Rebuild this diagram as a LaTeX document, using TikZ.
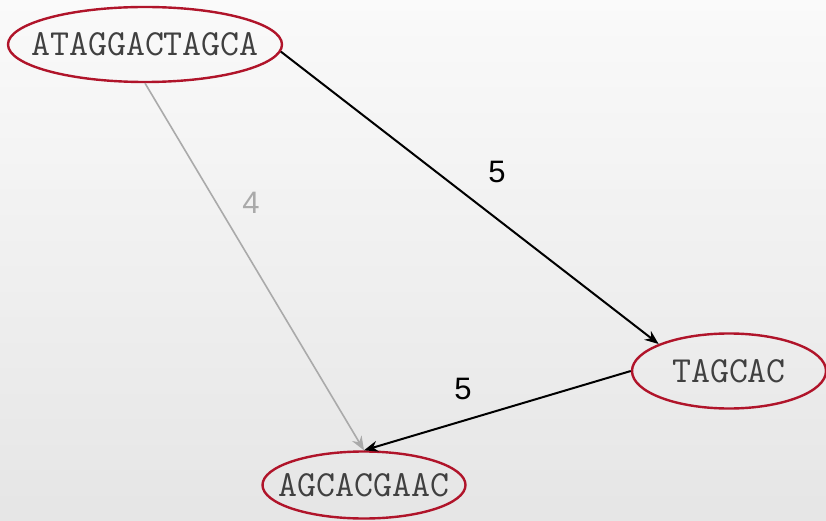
\documentclass[tikz,border=0pt]{standalone}
\usepackage{fontspec}
\setmainfont{Liberation Sans}
\usetikzlibrary{shapes.geometric,arrows.meta}
\definecolor{ered}{RGB}{176,20,42}
\definecolor{seqtext}{RGB}{64,64,64}
\definecolor{lightedge}{RGB}{170,170,170}
\begin{document}
\begin{tikzpicture}[x=1pt,y=-1pt,
  seq/.style={ellipse, draw=ered, line width=2.4pt, inner xsep=-60pt, inner ysep=-20pt, text=seqtext,
    font=\ttfamily\fontsize{36.8}{40}\selectfont},
  lab/.style={font=\fontsize{31}{36}\selectfont, inner sep=0pt},
  darkedge/.style={draw=black, line width=2pt, -{Stealth[length=14pt,width=11pt]}},
  greyedge/.style={draw=lightedge, line width=1.6pt, -{Stealth[length=14pt,width=11pt]}}]
\shade[top color=white!98!black, middle color=white!96!black, bottom color=white!90!black] (0,0) rectangle (826,521);
\useasboundingbox (0,0) rectangle (826,521);
\node[seq, minimum width=274pt, minimum height=75pt] (top) at (145,44.5) {ATAGGACTAGCA};
\node[seq, minimum width=194pt, minimum height=75pt] (tag) at (729,371) {TAGCAC};
\node[seq, minimum width=203pt, minimum height=67pt] (agc) at (364,485) {AGCACGAAC};
\draw[darkedge] (top.-3) -- (tag.159);
\draw[greyedge] (top.south) -- (agc.north);
\draw[darkedge] (tag.west) -- (agc.north);
\node[lab] (l1) at (497,172) {5};
\node[lab, text=lightedge] (l2) at (251,203) {4};
\node[lab] (l3) at (463,389) {5};
\end{tikzpicture}
\end{document}
